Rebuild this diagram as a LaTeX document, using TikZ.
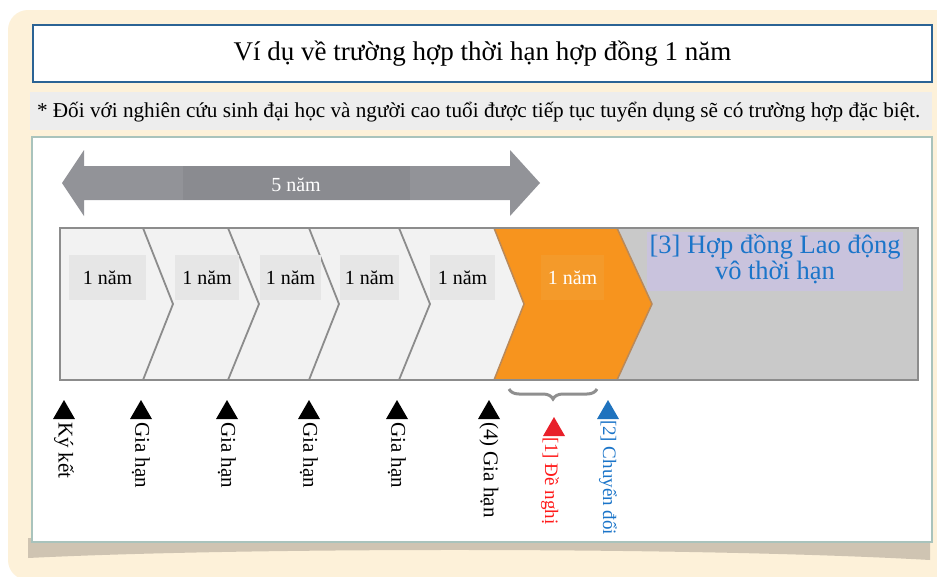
\documentclass[tikz,border=0pt]{standalone}
\usepackage{fontspec}
\setmainfont{Liberation Serif}
\usetikzlibrary{shapes.geometric,decorations.pathreplacing}

\definecolor{cream}{HTML}{FDF1D9}
\definecolor{titleblue}{HTML}{2B6394}
\definecolor{notegray}{HTML}{EDEDED}
\definecolor{panelline}{HTML}{A9C3BC}
\definecolor{shadowtan}{HTML}{CFC4B2}
\definecolor{arrowgray}{HTML}{929398}
\definecolor{bandgray}{HTML}{8A8B90}
\definecolor{barline}{HTML}{8C8C8C}
\definecolor{chevlight}{HTML}{F2F2F2}
\definecolor{boxgray}{HTML}{E6E6E6}
\definecolor{regiongray}{HTML}{C9C9C9}
\definecolor{yearorange}{HTML}{F7941E}
\definecolor{orangebox}{HTML}{F49A2A}
\definecolor{orangeedge}{HTML}{B9895A}
\definecolor{lavender}{HTML}{C9C3DD}
\definecolor{textblue}{HTML}{1B75C9}
\definecolor{tipred}{HTML}{E8202A}
\definecolor{textred}{HTML}{FF1A1A}
\definecolor{tipblue}{HTML}{1F73BE}
\definecolor{bracegray}{HTML}{8F8F8F}

\begin{document}
\begin{tikzpicture}[x=1pt,y=-1pt,
  every node/.style={inner sep=0pt, outer sep=0pt},
  yearbox/.style={fill=boxgray, minimum height=45, font=\fontsize{20}{20}\selectfont},
  tipmark/.style={regular polygon, regular polygon sides=3, fill=black, minimum size=25.4},
  vlabel/.style={rotate=-90, anchor=west, font=\fontsize{21}{21}\selectfont},
  vsmall/.style={rotate=-90, anchor=west, font=\fontsize{19}{19}\selectfont},
  chevline/.style={draw=barline, line width=1.8},
]
\useasboundingbox (0,0) rectangle (937,576);
\fill[white] (0,0) rectangle (937,576);

% cream card
\fill[cream, rounded corners=20] (8,10) rectangle (960,580);

% title
\node[draw=titleblue, line width=2.5, fill=white, minimum width=899, minimum height=57,
      anchor=north west, font=\fontsize{27}{27}\selectfont] (title) at (33,25)
      {Ví dụ về trường hợp thời hạn hợp đồng 1 năm};

% note strip
\node[fill=notegray, minimum width=902, minimum height=38, anchor=north west] (notebar) at (30,92) {};
\node[anchor=west, font=\fontsize{21.2}{21.2}\selectfont] (note) at (37,112)
      {* Đối với nghiên cứu sinh đại học và người cao tuổi được tiếp tục tuyển dụng sẽ có trường hợp đặc biệt.};

% panel with curled shadow
\fill[shadowtan] (28,538) -- (930,538) -- (930,560) .. controls (700,547) and (250,547) .. (28,558) -- cycle;
\node[draw=panelline, fill=white, line width=1.2, minimum width=900, minimum height=405,
      anchor=north west] (panel) at (32,137) {};

% five-year double arrow
\fill[arrowgray] (62,183) -- (84,150) -- (84,166) -- (510,166) -- (510,150) -- (540,183)
  -- (510,216) -- (510,200) -- (84,200) -- (84,216) -- cycle;
\fill[bandgray] (183,166) rectangle (410,200);
\node[text=white, font=\fontsize{20}{20}\selectfont] (span) at (296,185) {5 năm};

% chevron bar
\fill[regiongray] (60,228) rectangle (918,380);
\fill[chevlight] (60,228) -- (494,228) -- (524,304) -- (494,380) -- (60,380) -- cycle;
\foreach \a/\b in {143/173, 228/259, 309/339, 399/430}
  \draw[chevline] (\a,228) -- (\b,304) -- (\a,380);
\filldraw[fill=yearorange, draw=orangeedge, line width=1.5]
  (494,228) -- (617,228) -- (652,304) -- (617,380) -- (494,380) -- (524,304) -- cycle;
\draw[barline, line width=2] (60,228) rectangle (918,380);

% year labels
\node[yearbox, minimum width=77] (y1) at (107.5,277.5) {1 năm};
\node[yearbox, minimum width=64] (y2) at (207,277.5) {1 năm};
\node[yearbox, minimum width=61] (y3) at (290.5,277.5) {1 năm};
\node[yearbox, minimum width=59] (y4) at (369.5,277.5) {1 năm};
\node[yearbox, minimum width=65] (y5) at (462.5,277.5) {1 năm};
\node[yearbox, minimum width=63, fill=orangebox, text=white] (y6) at (572.5,277.5) {1 năm};

% indefinite contract
\node[fill=lavender, minimum width=256, minimum height=59, anchor=north west] (permbox) at (647,232) {};
\node[text=textblue, align=center, font=\fontsize{26.5}{26}\selectfont] (perm) at (775,259)
  {[3] Hợp đồng Lao động\\vô thời hạn};

% brace under the orange year
\draw[bracegray, line width=3, decorate, decoration={brace, amplitude=10}] (597,389) -- (509,389);

% markers
\node[tipmark] (m1) at (64,412.7) {};
\node[tipmark] (m2) at (141,412.7) {};
\node[tipmark] (m3) at (227,412.7) {};
\node[tipmark] (m4) at (309,412.7) {};
\node[tipmark] (m5) at (397,412.7) {};
\node[tipmark] (m6) at (489,412.7) {};
\node[tipmark, fill=tipred] (m7) at (554,429.7) {};
\node[tipmark, fill=tipblue] (m8) at (608,412.7) {};

\node[vlabel] (l1) at (64,422) {Ký kết};
\node[vlabel] (l2) at (141,422) {Gia hạn};
\node[vlabel] (l3) at (227,422) {Gia hạn};
\node[vlabel] (l4) at (309,422) {Gia hạn};
\node[vlabel] (l5) at (397,422) {Gia hạn};
\node[vlabel] (l6) at (489,422) {(4) Gia hạn};
\node[vsmall, text=textred] (l7) at (550,437) {[1] Đề nghị};
\node[vsmall, text=textblue] (l8) at (608,420) {[2] Chuyển đổi};
\end{tikzpicture}
\end{document}
